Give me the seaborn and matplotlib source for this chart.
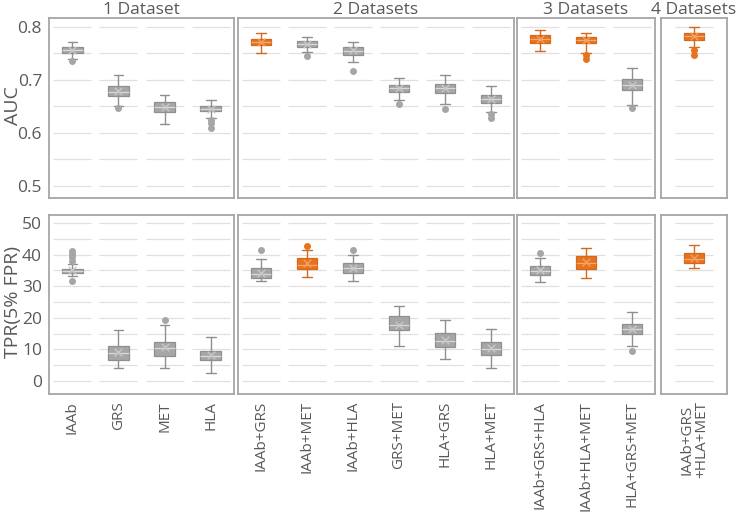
import matplotlib
matplotlib.use("Agg")
import matplotlib.pyplot as plt
import seaborn as sns
import pandas as pd

# categories and panel groups
names = ["IAAb", "GRS", "MET", "HLA",
         "IAAb+GRS", "IAAb+MET", "IAAb+HLA", "GRS+MET", "HLA+GRS", "HLA+MET",
         "IAAb+GRS+HLA", "IAAb+HLA+MET", "HLA+GRS+MET",
         "IAAb+GRS\n+HLA+MET"]
group_sizes = [4, 6, 3, 1]
group_titles = ["1 Dataset", "2 Datasets", "3 Datasets", "4 Datasets"]

# AUC box summaries
auc_lo = [0.740, 0.651, 0.616, 0.628, 0.751, 0.753, 0.733, 0.663, 0.655, 0.639, 0.755, 0.751, 0.653, 0.763]
auc_q1 = [0.750, 0.669, 0.640, 0.641, 0.766, 0.763, 0.748, 0.678, 0.675, 0.656, 0.769, 0.769, 0.681, 0.776]
auc_med = [0.756, 0.678, 0.649, 0.646, 0.771, 0.768, 0.755, 0.684, 0.684, 0.664, 0.777, 0.775, 0.691, 0.783]
auc_q3 = [0.762, 0.688, 0.658, 0.651, 0.778, 0.773, 0.763, 0.691, 0.692, 0.672, 0.784, 0.781, 0.701, 0.789]
auc_hi = [0.771, 0.709, 0.672, 0.663, 0.789, 0.781, 0.772, 0.703, 0.709, 0.689, 0.795, 0.789, 0.722, 0.800]
auc_mean = [0.757, 0.679, 0.649, 0.645, 0.772, 0.768, 0.756, 0.684, 0.684, 0.664, 0.777, 0.775, 0.691, 0.783]
auc_fliers = [[0.735], [0.647], [], [0.624, 0.618, 0.610], [], [0.746], [0.717], [0.654], [0.645],
              [0.636, 0.629], [], [0.748, 0.740], [0.647], [0.757, 0.748]]
auc_orange = [0, 0, 0, 0, 1, 0, 0, 0, 0, 0, 1, 1, 0, 1]

# TPR (5% FPR) box summaries
tpr_lo = [33.2, 4.0, 4.0, 2.5, 31.6, 32.9, 31.6, 11.0, 7.0, 4.2, 31.3, 32.7, 11.1, 35.8]
tpr_q1 = [34.3, 6.8, 8.0, 6.8, 32.7, 35.3, 34.1, 16.2, 10.9, 8.1, 33.4, 35.5, 15.0, 37.3]
tpr_med = [34.8, 8.8, 10.5, 8.0, 34.0, 36.8, 35.6, 17.6, 12.6, 10.0, 34.7, 37.4, 16.4, 38.7]
tpr_q3 = [35.5, 11.0, 12.3, 9.6, 35.8, 38.8, 37.2, 20.6, 15.2, 12.5, 36.5, 39.6, 18.0, 40.4]
tpr_hi = [37.0, 16.2, 17.8, 13.8, 38.7, 41.3, 40.0, 23.6, 19.3, 16.5, 39.0, 42.2, 21.8, 42.9]
tpr_mean = [35.0, 9.3, 10.8, 8.1, 34.3, 37.2, 35.6, 17.7, 13.0, 10.4, 35.0, 37.6, 16.6, 38.9]
tpr_fliers = [[31.6, 38.0, 39.1, 40.1, 41.0], [], [19.3], [], [41.3], [42.7], [41.3], [], [], [],
              [40.5], [], [9.5], []]
tpr_orange = [0, 0, 0, 0, 0, 1, 0, 0, 0, 0, 0, 1, 0, 1]

GRAY, GRAY_EDGE = "#a6a6a6", "#8f8f8f"
ORANGE, ORANGE_EDGE = "#e8731f", "#d2691e"
TXT = "#595959"

sns.set_style("white")
plt.rcParams["font.family"] = ["Open Sans", "DejaVu Sans"]

fig = plt.figure(figsize=(7.37, 5.14), dpi=100)
W, H = 737, 514
cols_px = [(49, 234), (238, 514), (517, 655), (661, 727)]
rows_px = [(18, 198), (215, 394)]

metrics = [
    dict(lo=auc_lo, q1=auc_q1, med=auc_med, q3=auc_q3, hi=auc_hi, mean=auc_mean,
         fl=auc_fliers, orange=auc_orange, ylim=(0.477, 0.817),
         grid=[0.5, 0.55, 0.6, 0.65, 0.7, 0.75, 0.8], ticks=[0.5, 0.6, 0.7, 0.8],
         ylabel="AUC"),
    dict(lo=tpr_lo, q1=tpr_q1, med=tpr_med, q3=tpr_q3, hi=tpr_hi, mean=tpr_mean,
         fl=tpr_fliers, orange=tpr_orange, ylim=(-4.1, 52.5),
         grid=list(range(0, 51, 5)), ticks=[0, 10, 20, 30, 40, 50],
         ylabel="TPR(5% FPR)"),
]

for r, m in enumerate(metrics):
    start = 0
    for c, n in enumerate(group_sizes):
        x0, x1 = cols_px[c]
        y0, y1 = rows_px[r]
        ax = fig.add_axes([x0 / W, 1 - y1 / H, (x1 - x0) / W, (y1 - y0) / H])
        idx = list(range(start, start + n))
        start += n
        if n == 1:
            pad = (x1 - x0) / 46.0 / 2
            ax.set_xlim(-pad, pad)
        else:
            ax.set_xlim(-0.5, n - 0.5)
        ax.set_ylim(*m["ylim"])

        # broken gridlines
        for j in range(n):
            ax.hlines(m["grid"], j - 0.41, j + 0.41, color="#e0e0e0", lw=0.9, zorder=0)

        for j, i in enumerate(idx):
            face = ORANGE if m["orange"][i] else GRAY
            edge = ORANGE_EDGE if m["orange"][i] else GRAY_EDGE
            stats = [dict(whislo=m["lo"][i], q1=m["q1"][i], med=m["med"][i],
                          q3=m["q3"][i], whishi=m["hi"][i], fliers=m["fl"][i])]
            ax.bxp(stats, positions=[j], widths=0.45, patch_artist=True,
                   showcaps=True,
                   boxprops=dict(facecolor=face, edgecolor=edge, lw=0.9),
                   medianprops=dict(color="#d9d9d9" if not m["orange"][i] else "#f4a96e", lw=0.9),
                   whiskerprops=dict(color=edge, lw=1.0),
                   capprops=dict(color=edge, lw=1.0),
                   capwidths=0.2,
                   flierprops=dict(marker="o", markersize=4, markerfacecolor=face,
                                   markeredgecolor=face))
        means = pd.DataFrame({"x": range(n), "y": [m["mean"][i] for i in idx],
                              "orange": [m["orange"][i] for i in idx]})
        for flag, col in [(0, "#c8c8c8"), (1, "#f2a060")]:
            sub = means[means["orange"] == flag]
            if len(sub):
                sns.scatterplot(data=sub, x="x", y="y", marker="x", color=col, s=30,
                                linewidth=1.0, ax=ax, zorder=5, legend=False)
        ax.set_xlabel("")
        ax.set_ylabel("")

        for s in ax.spines.values():
            s.set_color("#a6a6a6")
            s.set_linewidth(1.3)
        ax.tick_params(length=0, colors=TXT, labelsize=12.5, pad=5)

        if r == 1:
            ax.set_xticks(range(n))
            ax.set_xticklabels([names[i] for i in idx], rotation=90, color=TXT,
                               fontsize=11, linespacing=1.0)
        else:
            ax.set_xticks([])
            ax.set_title(group_titles[c], color=TXT, fontsize=12.5, pad=1)

        if c == 0:
            ax.set_yticks(m["ticks"])
            # y label placed in the left margin
            fig.text(13 / W, 1 - ((y0 + y1) / 2 - 2) / H, m["ylabel"], rotation=90,
                     ha="center", va="center", color=TXT, fontsize=14)
        else:
            ax.set_yticks([])

fig.savefig("out.png", dpi=100)
